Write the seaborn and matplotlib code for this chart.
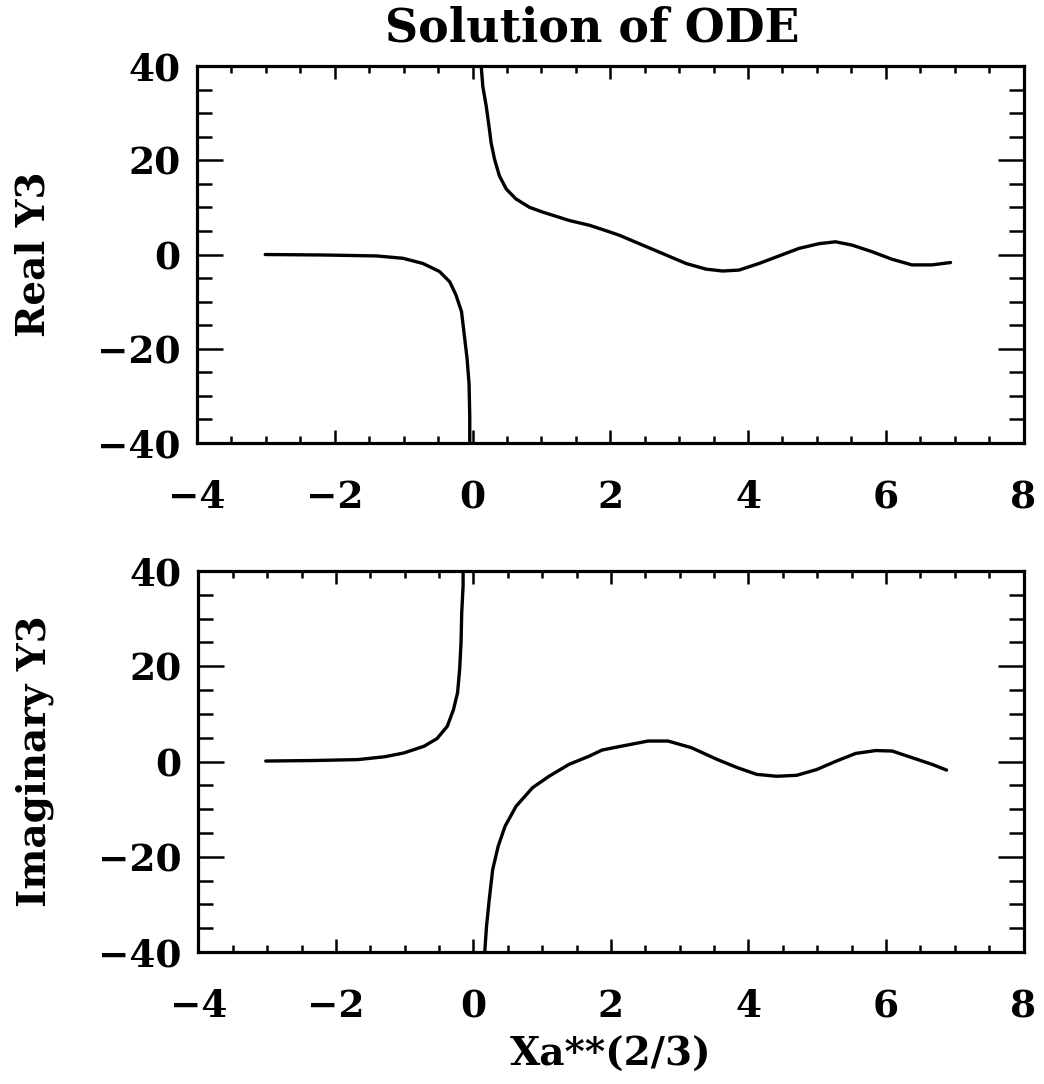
import matplotlib
matplotlib.use("Agg")
import matplotlib.pyplot as plt
from matplotlib.ticker import MultipleLocator
import seaborn as sns

# Real part of Y3: branch left of the pole and branch right of it
real_left_x = [-3.01, -2.17, -1.39, -1.01, -0.72, -0.48, -0.33, -0.24, -0.16,
               -0.12, -0.08, -0.05, -0.04, -0.04]
real_left_y = [0.0, -0.1, -0.3, -0.8, -1.9, -3.6, -5.8, -8.6, -12.1,
               -17.0, -21.9, -27.5, -34.5, -40.0]
real_right_x = [0.126, 0.15, 0.20, 0.246, 0.27, 0.32, 0.39, 0.49, 0.63, 0.83,
                1.02, 1.41, 1.70, 1.99, 2.13, 2.47, 2.81, 3.10, 3.39, 3.63,
                3.87, 4.16, 4.45, 4.74, 5.03, 5.27, 5.51, 5.80, 6.09, 6.38,
                6.67, 6.94]
real_right_y = [40.0, 35.6, 31.4, 26.5, 23.7, 20.2, 16.7, 13.9, 11.8, 10.0,
                9.0, 7.2, 6.2, 4.8, 4.1, 2.0, -0.1, -1.9, -3.1, -3.5,
                -3.3, -1.9, -0.3, 1.3, 2.3, 2.7, 2.0, 0.6, -1.0, -2.2,
                -2.2, -1.7]

# Imaginary part of Y3
imag_left_x = [-3.02, -2.35, -1.68, -1.29, -1.01, -0.72, -0.53, -0.38, -0.29,
               -0.23, -0.20, -0.18, -0.17, -0.15, -0.15]
imag_left_y = [0.1, 0.2, 0.4, 1.0, 1.8, 3.2, 4.8, 7.4, 10.9,
               14.5, 19.4, 25.0, 31.3, 36.9, 40.0]
imag_right_x = [0.165, 0.19, 0.23, 0.28, 0.36, 0.46, 0.62, 0.86, 1.10, 1.39,
                1.68, 1.87, 2.11, 2.54, 2.83, 3.17, 3.55, 3.84, 4.12, 4.41,
                4.70, 4.99, 5.28, 5.56, 5.85, 6.09, 6.38, 6.67, 6.88]
imag_right_y = [-40.0, -34.7, -29.0, -22.7, -17.8, -13.6, -9.4, -5.5, -3.1, -0.6,
                1.1, 2.4, 3.1, 4.3, 4.3, 2.9, 0.4, -1.3, -2.7, -3.1,
                -2.9, -1.7, 0.1, 1.7, 2.3, 2.2, 0.8, -0.6, -1.8]

x_ticks = [-4, -2, 0, 2, 4, 6, 8]
y_ticks = [-40, -20, 0, 20, 40]

sns.set_theme(style="ticks")
plt.rcParams["font.family"] = ["DejaVu Serif"]
plt.rcParams["axes.unicode_minus"] = True

fig = plt.figure(figsize=(10.44, 10.84), dpi=100)
ax1 = fig.add_axes([0.1887, 0.5913, 0.7917, 0.3478])
ax2 = fig.add_axes([0.1900, 0.1218, 0.7904, 0.3514])

panels = [
    (ax1, [(real_left_x, real_left_y), (real_right_x, real_right_y)], "Real Y3"),
    (ax2, [(imag_left_x, imag_left_y), (imag_right_x, imag_right_y)], "Imaginary Y3"),
]

for ax, branches, label in panels:
    for bx, by in branches:
        sns.lineplot(x=bx, y=by, ax=ax, sort=False, estimator=None,
                     color="black", linewidth=2.4)
    ax.set_xlim(-4, 8)
    ax.set_ylim(-40, 40)
    ax.set_xticks(x_ticks)
    ax.set_yticks(y_ticks)
    ax.xaxis.set_minor_locator(MultipleLocator(0.5))
    ax.yaxis.set_minor_locator(MultipleLocator(5))
    ax.tick_params(axis="both", which="both", direction="in",
                   top=True, right=True, color="black", width=1.8)
    ax.tick_params(axis="x", which="major", length=9.5, pad=26)
    ax.tick_params(axis="x", which="minor", length=5)
    ax.tick_params(axis="y", which="major", length=19, pad=12)
    ax.tick_params(axis="y", which="minor", length=11)
    for t in ax.get_xticklabels() + ax.get_yticklabels():
        t.set_fontsize(27)
        t.set_fontweight("bold")
        t.set_color("black")
    for s in ax.spines.values():
        s.set_linewidth(2.3)
        s.set_color("black")
    ax.set_ylabel(label, fontsize=28, fontweight="bold", color="black")
    ax.yaxis.set_label_coords(-0.198, 0.5)
    ax.yaxis.label.set_va("center")

ax1.set_title("Solution of ODE", fontsize=33, fontweight="bold",
              color="black", pad=18, x=0.478)
ax2.set_xlabel("Xa**(2/3)", fontsize=28, fontweight="bold", color="black",
               labelpad=8)

fig.savefig("out.png", dpi=100, facecolor="white")
